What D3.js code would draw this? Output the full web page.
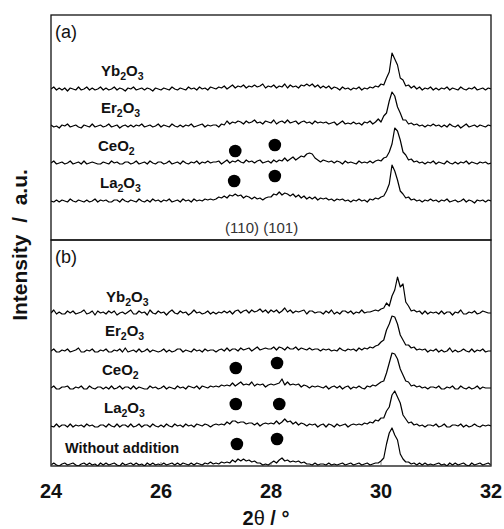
<!DOCTYPE html>
<html>
<head>
<meta charset="utf-8">
<script src="https://cdn.jsdelivr.net/npm/d3@7/dist/d3.min.js"></script>
<style>
body { margin: 0; background: #fff; }
svg { display: block; font-family: "Liberation Sans", Arial, Helvetica, sans-serif; }
</style>
</head>
<body>
<svg id="chart" width="504" height="529"></svg>
<script>
// patterns sampled every 0.05 deg from 24 to 32 (one line per degree)
var theta0 = 24, step = 0.05;

var aYb = [0,2,-1,1,-1,1,-2,1,0,-1,2,-1,0,2,-1,1,-1,0,2,-1,
    1,-1,0,2,-1,1,0,-2,1,0,2,-1,0,1,-1,1,0,-2,1,0,
    -1,1,0,-1,2,0,-1,1,0,-1,2,0,1,-1,2,0,1,-1,2,1,
    0,2,1,3,0,2,4,1,3,2,4,1,3,2,4,2,3,5,1,3,
    2,4,1,3,2,5,1,4,2,3,1,4,3,5,3,5,2,4,1,3,
    1,3,0,2,1,-1,2,0,1,-1,1,0,2,-1,1,0,2,1,3,2,
    5,4,11,17,36,30,24,11,9,3,4,1,3,0,2,-1,1,0,2,-1,
    1,-1,1,0,2,-1,1,0,-1,2,0,-1,1,0,2,-1,0,1,-1,1,
    0];
var aEr = [1,-1,0,-2,1,0,2,-1,0,1,-1,-2,1,0,-1,2,-1,0,1,-1,
    0,2,-1,0,1,-2,0,1,-1,1,-1,1,0,2,-1,0,1,-1,0,2,
    -1,1,0,-1,2,0,-1,1,-1,1,0,2,-1,0,1,2,-1,1,0,1,
    1,-1,2,1,5,2,4,3,5,4,2,5,3,4,6,3,4,2,5,4,
    3,6,2,4,5,3,6,3,4,5,2,4,5,3,4,2,5,3,4,3,
    4,2,3,4,1,3,5,2,3,2,4,2,3,1,4,3,5,2,4,7,
    4,10,13,25,34,30,19,13,6,6,2,3,1,2,0,1,-1,1,0,2,
    0,1,-1,1,-1,2,0,-1,1,-2,0,2,-1,0,1,-1,1,0,-1,1,
    0];
var aCe = [0,2,-1,0,1,-1,0,2,-1,0,1,-1,2,-1,0,1,0,-1,-1,1,
    0,-1,2,0,1,-1,-1,1,1,-1,0,2,-1,0,1,-1,2,0,-1,1,
    1,-1,0,2,-1,0,1,-1,2,0,-1,1,0,2,-1,1,0,2,0,1,
    1,2,-1,1,3,0,2,1,3,1,0,3,1,2,0,2,3,0,1,2,
    0,3,1,3,2,5,2,4,6,3,5,7,6,9,10,9,5,3,1,3,
    2,1,2,0,2,1,-1,2,0,1,0,-1,2,0,1,0,2,0,2,3,
    2,5,6,11,19,35,32,23,11,8,3,4,1,2,0,1,-1,1,0,2,
    -1,1,0,-1,2,0,-1,1,-1,1,0,2,-1,1,0,-1,1,0,1,-1,
    0];
var aLa = [0,-1,1,-1,1,0,-1,2,0,-1,1,0,-1,1,-1,0,2,-1,1,0,
    1,-1,-1,1,1,-1,2,0,-1,1,0,-1,2,0,-1,1,-1,2,0,1,
    -1,1,0,2,-1,0,1,-1,2,0,1,-1,2,0,1,0,2,1,2,1,
    2,4,3,5,3,6,5,7,5,6,3,5,4,2,4,2,3,1,3,4,
    4,7,6,9,6,8,7,5,7,4,6,3,5,2,4,2,4,1,3,2,
    3,1,2,0,2,1,2,0,1,-1,1,0,2,0,1,-1,2,1,3,2,
    4,5,10,17,36,30,21,10,7,3,4,1,2,0,1,-1,1,0,2,0,
    1,-1,1,0,2,-1,0,1,-1,0,2,-1,1,0,-2,1,0,1,-1,1,
    0];

var bYb = [0,3,-1,1,-1,-1,2,0,2,-1,0,1,3,-1,0,2,-2,2,0,1,
    -1,2,0,2,-2,0,1,-1,1,3,-1,-1,2,0,1,-2,3,0,-1,2,
    0,1,-2,1,3,0,-1,2,0,1,-2,0,3,0,1,-1,0,2,-1,1,
    -1,1,0,2,0,2,-1,2,3,0,2,3,0,3,1,2,4,1,3,0,
    3,1,3,0,2,5,1,3,0,2,1,2,3,-1,2,2,0,1,1,-1,
    2,0,3,-1,1,-1,2,2,0,2,-1,1,0,3,0,1,1,2,3,2,
    4,5,10,7,17,23,36,26,29,11,7,2,3,1,2,-1,2,-1,1,0,
    1,-1,2,-1,1,1,-2,1,0,3,-1,-1,1,0,2,-1,0,2,1,0,
    0];
var bEr = [0,2,-1,-1,1,0,2,-1,0,1,3,-1,-1,1,0,2,-1,-1,1,0,
    2,-1,-1,1,0,2,-1,3,-1,0,1,-1,2,-1,0,2,-1,1,0,-1,
    0,2,-1,1,-1,0,2,2,-1,1,0,-1,2,0,1,-1,2,0,1,1,
    -1,1,2,0,3,0,2,2,0,3,1,2,3,0,2,4,1,2,3,2,
    2,4,1,4,3,1,4,2,2,4,1,3,2,1,3,1,2,2,0,2,
    1,2,0,1,0,3,1,0,2,1,2,0,3,1,3,2,4,3,5,6,
    9,11,21,27,35,34,27,16,11,6,6,3,4,1,2,1,2,-1,1,0,
    2,-1,1,-1,0,3,-1,1,-1,0,2,0,-1,2,-1,1,0,2,-1,0,
    0];
var bCe = [0,2,-1,-1,1,1,2,-1,-1,1,0,2,-1,-1,2,0,-1,1,1,-1,
    1,-1,2,-1,0,2,-1,1,1,-1,2,-1,1,0,-1,-1,2,0,1,-1,
    0,2,-1,1,0,-1,2,0,1,-1,2,1,0,2,-1,2,1,0,2,1,
    2,1,3,2,3,2,5,2,4,6,3,4,3,6,2,4,3,4,1,3,
    4,3,4,5,9,3,6,3,4,3,4,1,3,2,0,2,1,2,1,0,
    2,-1,1,2,0,2,-1,1,2,-1,1,0,2,0,-1,2,1,3,2,4,
    6,7,15,25,35,34,29,19,13,7,6,2,3,1,2,0,1,-1,1,1,
    0,2,-1,-1,1,0,2,-1,-1,2,0,-1,1,-1,0,2,-1,1,0,0,
    0];
var bLa = [0,-1,2,-1,1,1,-1,2,-1,1,0,1,-1,2,0,1,-1,-1,1,1,
    -1,2,0,-1,2,-1,1,1,-1,2,-1,0,2,-1,1,1,-1,2,0,-1,
    1,-1,2,0,-1,2,0,1,-1,2,0,1,-1,2,1,0,2,1,-1,1,
    2,1,2,1,4,2,5,5,3,4,4,2,3,3,1,3,0,2,3,2,
    3,2,5,2,4,7,4,5,2,4,1,3,2,0,2,1,2,-1,1,2,
    -1,2,1,-1,2,0,1,2,-1,1,2,1,2,1,3,2,4,3,6,5,
    8,8,15,19,31,35,29,23,11,7,3,4,1,2,0,1,-1,1,1,0,
    2,-1,0,2,-1,-1,1,1,0,2,-1,1,-1,0,2,0,-1,1,0,1,
    0];
var bNone = [0,2,0,-1,1,2,0,1,2,0,-1,1,2,0,2,0,1,-1,2,0,
    2,0,1,2,0,-1,2,0,1,2,0,2,0,1,-1,2,0,2,0,1,
    0,2,0,1,2,0,2,0,2,1,0,2,0,2,1,0,2,1,3,1,
    2,1,3,2,3,2,5,3,6,4,6,4,5,3,4,2,2,0,1,0,
    2,4,2,5,7,4,5,3,4,3,4,2,3,1,1,0,2,0,1,1,
    0,2,0,1,0,1,2,0,1,2,0,1,2,0,1,2,0,1,2,2,
    4,7,21,32,37,30,25,11,6,3,3,1,2,0,2,0,2,0,1,0,
    1,2,0,1,-1,2,0,2,0,1,2,0,-1,2,0,1,2,0,1,2,
    0];

// panel contents, top trace first
var aNames = ["Yb2O3", "Er2O3", "CeO2", "La2O3"];
var aSeries = [aYb, aEr, aCe, aLa];
var aOffsets = [151, 114, 77, 39];
var bNames = ["Yb2O3", "Er2O3", "CeO2", "La2O3", "Without addition"];
var bSeries = [bYb, bEr, bCe, bLa, bNone];
var bOffsets = [153, 115, 78, 40, 1];

// filled circles: [trace index, 2theta, height above trace]
var aDots = [[2, 27.35, 12], [2, 28.07, 18], [3, 27.33, 20], [3, 28.07, 25]];
var bDots = [[2, 27.36, 20], [2, 28.11, 25], [3, 27.36, 22], [3, 28.15, 22], [4, 27.38, 21], [4, 28.11, 26]];

var xTicks = [24, 26, 28, 30, 32];

var svg = d3.select("#chart");
var x = d3.scaleLinear().domain([24, 32]).range([51, 491]);

function addFormula(sel, name) {
    var parts = name.match(/\d+|\D+/g);
    var sub = false;
    parts.forEach(function(p) {
        var t = sel.append("tspan").text(p);
        if (/^\d+$/.test(p)) {
            t.attr("font-size", 10.5).attr("dy", sub ? 0 : 4);
            sub = true;
        } else {
            if (sub) t.attr("dy", -4);
            sub = false;
        }
    });
}

function drawPanel(id, top, bottom, series, offsets, names, dots, labelX, labelUp, tag) {
    var y = d3.scaleLinear().domain([0, bottom - top]).range([bottom, top]);
    var g = svg.append("g");

    g.append("clipPath").attr("id", "clip" + id)
        .append("rect").attr("x", 51).attr("y", top).attr("width", 440).attr("height", bottom - top);

    series.forEach(function(s, k) {
        var line = d3.line()
            .x(function(d, i) { return x(theta0 + i * step); })
            .y(function(d) { return y(d + offsets[k]); });
        g.append("path").datum(s)
            .attr("clip-path", "url(#clip" + id + ")")
            .attr("d", line)
            .attr("fill", "none")
            .attr("stroke", "#000")
            .attr("stroke-width", 1.2)
            .attr("stroke-linejoin", "round");
    });

    g.selectAll("circle").data(dots).enter().append("circle")
        .attr("cx", function(d) { return x(d[1]); })
        .attr("cy", function(d) { return y(offsets[d[0]] + d[2]); })
        .attr("r", 6.3)
        .attr("fill", "#000");

    names.forEach(function(n, k) {
        var t = g.append("text")
            .attr("x", labelX[k])
            .attr("y", y(offsets[k] + labelUp[k]))
            .attr("font-weight", "bold")
            .attr("font-size", n.length > 6 ? 14.5 : 15)
            .attr("fill", "#111");
        addFormula(t, n);
    });

    g.append("text").attr("x", 55).attr("y", top + 23)
        .attr("font-size", 18).attr("fill", "#111").text(tag);

    g.append("rect").attr("x", 51).attr("y", top).attr("width", 440).attr("height", bottom - top)
        .attr("fill", "none").attr("stroke", "#111").attr("stroke-width", 1.3);
    return y;
}

drawPanel("a", 15, 240, aSeries, aOffsets, aNames, aDots,
    [101, 101, 98, 100], [13, 13, 12, 13], "(a)");
drawPanel("b", 240, 466, bSeries, bOffsets, bNames, bDots,
    [106, 105, 102, 104, 65], [11, 15, 13, 13, 12], "(b)");

// hkl note under panel (a)
svg.append("text").attr("x", x(27.83)).attr("y", 233)
    .attr("text-anchor", "middle").attr("font-size", 15).attr("fill", "#333")
    .text("(110) (101)");

// inward ticks on the bottom frame
svg.append("g").selectAll("line").data(xTicks).enter().append("line")
    .attr("x1", function(d) { return x(d); }).attr("x2", function(d) { return x(d); })
    .attr("y1", 466).attr("y2", 462)
    .attr("stroke", "#666").attr("stroke-width", 0.8);

svg.append("g").selectAll("text").data(xTicks).enter().append("text")
    .attr("x", function(d) { return x(d); })
    .attr("y", 497.5)
    .attr("text-anchor", "middle")
    .attr("font-size", 20).attr("font-weight", "bold").attr("fill", "#111")
    .text(function(d) { return d; });

var xt = svg.append("text").attr("x", 266).attr("y", 524.5)
    .attr("text-anchor", "middle").attr("font-size", 20).attr("font-weight", "bold").attr("fill", "#111");
xt.append("tspan").text("2");
xt.append("tspan").attr("font-weight", "normal").text("θ");
xt.append("tspan").text(" / °");

svg.append("text")
    .attr("transform", "translate(27,245) rotate(-90)")
    .attr("text-anchor", "middle")
    .attr("font-size", 21).attr("font-weight", "bold").attr("fill", "#111")
    .style("white-space", "pre")
    .text("Intensity  /  a.u.");
</script>
</body>
</html>
